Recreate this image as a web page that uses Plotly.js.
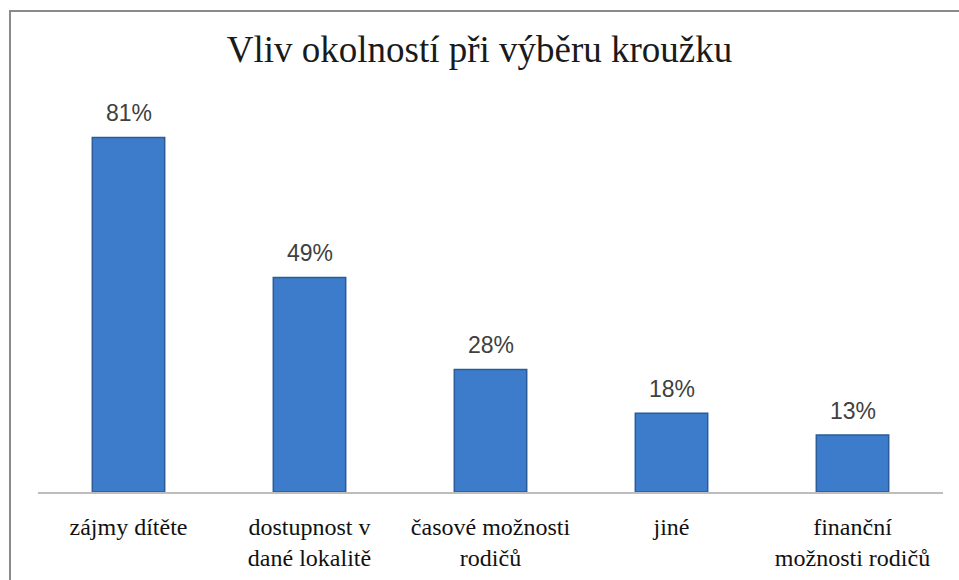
<!DOCTYPE html>
<html>
<head>
<meta charset="utf-8">
<script src="https://cdn.plot.ly/plotly-3.0.1.min.js"></script>
<style>
  html, body { margin: 0; padding: 0; background: #ffffff; overflow: hidden; }
  #chart { width: 959px; height: 580px; position: absolute; left: 0; top: 0; }
  #frame { position: absolute; left: 9px; top: 10px; width: 1000px; height: 1000px;
           border: 2px solid #8a8a8a; pointer-events: none; }
</style>
</head>
<body>
<div id="chart"></div>
<div id="frame"></div>
<script>
const categories = ["zájmy dítěte", "dostupnost v<br>dané lokalitě", "časové možnosti<br>rodičů", "jiné", "finanční<br>možnosti rodičů"];
const values = [81, 49, 28, 18, 13];
const valueLabels = ["81%", "49%", "28%", "18%", "13%"];

const serif = "'Liberation Serif', 'Times New Roman', serif";

const trace = {
  type: "bar",
  x: categories,
  y: values,
  width: 0.4,
  marker: { color: "#3d7ccb", line: { color: "#2b5b98", width: 1.5 } },
  hoverinfo: "none"
};

const annotations = categories.map((c, i) => ({
  x: c, y: values[i], text: valueLabels[i],
  xref: "x", yref: "y", showarrow: false,
  yanchor: "bottom", yshift: 9,
  font: { family: "'Liberation Sans', Arial, sans-serif", size: 23, color: "#404040" }
}));

const layout = {
  width: 959, height: 580,
  margin: { l: 38, r: 16, t: 98, b: 88 },
  paper_bgcolor: "#ffffff", plot_bgcolor: "#ffffff",
  font: { family: serif, size: 24, color: "#111111" },
  title: {
    text: "Vliv okolností při výběru kroužku",
    font: { family: serif, size: 37, color: "#1a1a1a" },
    x: 0.5, xanchor: "center", y: 0.915, yanchor: "middle"
  },
  showlegend: false,
  bargap: 0.6,
  xaxis: {
    showline: true, linecolor: "#bdbdbd", linewidth: 2,
    ticks: "", showgrid: false, zeroline: false,
    ticklabelstandoff: 12,
    tickfont: { family: serif, size: 24, color: "#111111" },
    fixedrange: true
  },
  yaxis: {
    range: [0, 90], visible: false, showgrid: false, zeroline: false, fixedrange: true
  },
  annotations: annotations
};

Plotly.newPlot("chart", [trace], layout, { displayModeBar: false, staticPlot: true });
</script>
</body>
</html>
